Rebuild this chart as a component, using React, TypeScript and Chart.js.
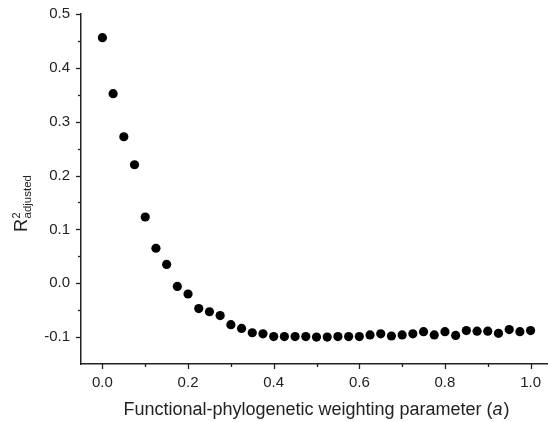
import React, { useEffect, useRef } from "react";
import { Chart, registerables } from "chart.js";

Chart.register(...registerables);

const xValues = [
  0, 0.025, 0.05, 0.075, 0.1, 0.125, 0.15, 0.175, 0.2, 0.225,
  0.25, 0.275, 0.3, 0.325, 0.35, 0.375, 0.4, 0.425, 0.45, 0.475,
  0.5, 0.525, 0.55, 0.575, 0.6, 0.625, 0.65, 0.675, 0.7, 0.725,
  0.75, 0.775, 0.8, 0.825, 0.85, 0.875, 0.9, 0.925, 0.95, 0.975, 1.0,
];
const yValues = [
  0.456, 0.352, 0.272, 0.22, 0.123, 0.065, 0.035, -0.006, -0.02, -0.047,
  -0.053, -0.06, -0.077, -0.084, -0.092, -0.094, -0.099, -0.099, -0.099, -0.099,
  -0.1, -0.1, -0.099, -0.099, -0.099, -0.096, -0.094, -0.098, -0.096, -0.094,
  -0.09, -0.096, -0.09, -0.097, -0.088, -0.089, -0.089, -0.093, -0.086, -0.09, -0.088,
];
const xTickValues = [0, 0.1, 0.2, 0.3, 0.4, 0.5, 0.6, 0.7, 0.8, 0.9, 1.0];
const xMajorTicks = [0, 0.2, 0.4, 0.6, 0.8, 1.0];
const yTickValues = [-0.1, -0.05, 0, 0.05, 0.1, 0.15, 0.2, 0.25, 0.3, 0.35, 0.4, 0.45, 0.5];
const yMajorTicks = [-0.1, 0, 0.1, 0.2, 0.3, 0.4, 0.5];
const xRange = [-0.05, 1.05];
const yRange = [-0.15, 0.5];
const xTitleMain = "Functional-phylogenetic weighting parameter (";
const xTitleItalic = "a";
const xTitleEnd = ")";
const yTitleMain = "R";
const yTitleSup = "2";
const yTitleSub = "adjusted";

const FONT = "'Liberation Sans', Arial, Helvetica, sans-serif";
const INK = "#222";

const isMajor = (v: number, majors: number[]) =>
  majors.some((m) => Math.abs(m - v) < 1e-9);

const decorPlugin = {
  id: "decor",
  afterDraw(chart: any) {
    const ctx = chart.ctx as CanvasRenderingContext2D;
    const xs = chart.scales.x;
    const ys = chart.scales.y;
    const area = chart.chartArea;
    ctx.save();
    ctx.strokeStyle = INK;
    ctx.lineWidth = 1.3;
    xTickValues.forEach((v) => {
      const px = Math.round(xs.getPixelForValue(v)) + 0.5;
      const len = isMajor(v, xMajorTicks) ? 5 : 3;
      ctx.beginPath();
      ctx.moveTo(px, area.bottom);
      ctx.lineTo(px, area.bottom + len);
      ctx.stroke();
    });
    yTickValues.forEach((v) => {
      const py = Math.round(ys.getPixelForValue(v)) + 0.5;
      const len = isMajor(v, yMajorTicks) ? 5 : 3;
      ctx.beginPath();
      ctx.moveTo(area.left, py);
      ctx.lineTo(area.left - len, py);
      ctx.stroke();
    });

    // x title
    ctx.fillStyle = INK;
    ctx.textBaseline = "alphabetic";
    ctx.textAlign = "left";
    const tf = 18;
    ctx.font = `${tf}px ${FONT}`;
    const w1 = ctx.measureText(xTitleMain).width;
    const w3 = ctx.measureText(xTitleEnd).width;
    ctx.font = `italic ${tf}px ${FONT}`;
    const w2 = ctx.measureText(xTitleItalic).width;
    const total = w1 + w2 + w3 + 1;
    const cx = (area.left + area.right) / 2;
    const x0 = cx - total / 2;
    const by = area.bottom + 51;
    ctx.font = `${tf}px ${FONT}`;
    ctx.fillText(xTitleMain, x0, by);
    ctx.font = `italic ${tf}px ${FONT}`;
    ctx.fillText(xTitleItalic, x0 + w1, by);
    ctx.font = `${tf}px ${FONT}`;
    ctx.fillText(xTitleEnd, x0 + w1 + w2 + 1, by);

    // y title
    ctx.translate(area.left - 54, 232);
    ctx.rotate(-Math.PI / 2);
    ctx.font = `18px ${FONT}`;
    ctx.fillText(yTitleMain, 0, 0);
    const rw = ctx.measureText(yTitleMain).width;
    ctx.font = `11px ${FONT}`;
    ctx.fillText(yTitleSup, rw + 0.5, -7);
    ctx.font = `11.5px ${FONT}`;
    ctx.fillText(yTitleSub, rw + 0.5, 4);
    ctx.restore();
  },
};

export default function App() {
  const ref = useRef<HTMLCanvasElement | null>(null);
  useEffect(() => {
    document.body.style.margin = "0";
    const canvas = ref.current;
    if (!canvas) return;
    const chart = new Chart(canvas, {
      type: "scatter",
      data: {
        datasets: [
          {
            data: xValues.map((x, i) => ({ x, y: yValues[i] })),
            backgroundColor: "#000",
            borderWidth: 0,
            pointRadius: 4.6,
            pointHoverRadius: 4.6,
          },
        ],
      },
      plugins: [decorPlugin],
      options: {
        animation: false,
        responsive: false,
        devicePixelRatio: 1,
        layout: { padding: { left: 0, top: 14, right: 8, bottom: 0 } },
        plugins: {
          legend: { display: false },
          tooltip: { enabled: false },
          title: { display: false },
        },
        scales: {
          x: {
            type: "linear",
            min: xRange[0],
            max: xRange[1],
            afterBuildTicks: (scale: any) => {
              scale.ticks = xTickValues.map((v) => ({ value: v }));
            },
            afterFit: (scale: any) => {
              scale.height = 58;
              scale.paddingLeft = 0;
              scale.paddingRight = 0;
            },
            grid: { display: false, drawTicks: false },
            border: { display: true, color: INK, width: 1.5 },
            ticks: {
              autoSkip: false,
              maxRotation: 0,
              padding: 10,
              color: INK,
              font: { family: FONT, size: 15 },
              callback: (v: any) =>
                isMajor(Number(v), xMajorTicks) ? Number(v).toFixed(1) : "",
            },
          },
          y: {
            type: "linear",
            min: yRange[0],
            max: yRange[1],
            afterBuildTicks: (scale: any) => {
              scale.ticks = yTickValues.map((v) => ({ value: v }));
            },
            afterFit: (scale: any) => {
              scale.width = 81;
              scale.paddingTop = 0;
              scale.paddingBottom = 0;
            },
            grid: { display: false, drawTicks: false },
            border: { display: true, color: INK, width: 1.5 },
            ticks: {
              autoSkip: false,
              padding: 11,
              color: INK,
              font: { family: FONT, size: 15 },
              callback: (v: any) =>
                isMajor(Number(v), yMajorTicks) ? Number(v).toFixed(1) : "",
            },
          },
        },
      },
    });
    return () => chart.destroy();
  }, []);
  return (
    <div
      style={{
        position: "fixed",
        left: 0,
        top: 0,
        width: 548,
        height: 422,
        overflow: "hidden",
        background: "#fff",
      }}
    >
      <canvas ref={ref} width={560} height={422} style={{ display: "block" }} />
    </div>
  );
}
